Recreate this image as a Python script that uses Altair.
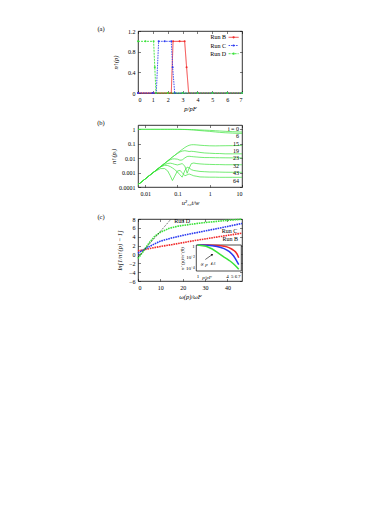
import altair as alt
import pandas as pd

FONT = "Liberation Serif"
RED, BLUE, GREEN, BLACK = "#f02a2a", "#2a3af0", "#3ae23a", "#000000"
W, H = 104, 62
FS = 6

# ---------------- panel (a) data ----------------
a_runs = ["Run B", "Run C", "Run D"]
a_B_p = [0, 1, 2, 2.24, 2.36, 2.8, 3.14, 3.27, 3.41, 4, 5, 6, 7]
a_B_n = [0, 0, 0, 0, 1, 1, 1, 0.5, 0, 0, 0, 0, 0]
a_C_p = [0, 1, 1.23, 1.39, 1.8, 2.24, 2.33, 2.47, 3, 4, 5, 6, 7]
a_C_n = [0, 0, 0, 1, 1, 1, 0.5, 0, 0, 0, 0, 0, 0]
a_D_p = [0, 0.5, 1.05, 1.13, 1.21, 2, 3, 4, 5, 6, 7]
a_D_n = [1, 1, 1, 0.5, 0, 0, 0, 0, 0, 0, 0]
a_xticks = [0, 1, 2, 3, 4, 5, 6, 7]
a_yticks = [0, 0.4, 0.8, 1.2]

# ---------------- panel (b) data ----------------
b_x = [0.006, 0.008, 0.01, 0.015, 0.02, 0.03, 0.04, 0.05, 0.06, 0.07, 0.08, 0.1,
       0.12, 0.14, 0.17, 0.2, 0.23, 0.27, 0.32, 0.4, 0.5, 0.7, 1, 1.5, 2, 3, 5, 7, 10]
b_i0 = [1, 1, 1, 1, 1, 1, 1, 1, 1, 1, 1, 1, 0.995, 0.99, 0.985, 0.98, 0.97, 0.96,
        0.95, 0.93, 0.91, 0.88, 0.85, 0.8, 0.77, 0.73, 0.69, 0.67, 0.65]
b_i6 = [1, 1, 1, 1, 1, 1, 1, 1, 1, 1, 1, 0.995, 0.99, 0.98, 0.97, 0.96, 0.94, 0.92,
        0.9, 0.86, 0.82, 0.77, 0.72, 0.66, 0.62, 0.58, 0.55, 0.53, 0.52]
b_i15 = [1.45e-4, 2.4e-4, 3.6e-4, 7.5e-4, 1.25e-3, 2.6e-3, 4.3e-3, 6.5e-3, 9e-3, 0.012,
         0.015, 0.023, 0.031, 0.04, 0.055, 0.068, 0.078, 0.085, 0.086, 0.083, 0.079,
         0.075, 0.072, 0.071, 0.072, 0.073, 0.074, 0.075, 0.075]
b_i19 = [1.45e-4, 2.4e-4, 3.6e-4, 7.5e-4, 1.25e-3, 2.6e-3, 4.3e-3, 6.5e-3, 9e-3, 0.012,
         0.015, 0.021, 0.027, 0.031, 0.033, 0.031, 0.029, 0.03, 0.029, 0.027, 0.025,
         0.023, 0.022, 0.021, 0.021, 0.02, 0.02, 0.02, 0.02]
b_i23 = [1.45e-4, 2.4e-4, 3.6e-4, 7.5e-4, 1.25e-3, 2.6e-3, 4.3e-3, 6.2e-3, 0.0078,
         0.0088, 0.009, 0.0085, 0.0072, 0.0075, 0.0105, 0.013, 0.0135, 0.013, 0.0125,
         0.012, 0.0115, 0.011, 0.011, 0.0108, 0.0107, 0.0106, 0.0105, 0.0105, 0.0105]
b_i32 = [1.45e-4, 2.4e-4, 3.6e-4, 7.5e-4, 1.25e-3, 2.5e-3, 0.0036, 0.0043, 0.0045,
         0.0042, 0.0038, 0.0034, 0.0038, 0.0042, 0.0028, 0.0009, 0.002, 0.0042, 0.0046,
         0.0042, 0.004, 0.0038, 0.0037, 0.0036, 0.0036, 0.0035, 0.0035, 0.0035, 0.0035]
b_i43 = [1.45e-4, 2.4e-4, 3.6e-4, 7.5e-4, 1.25e-3, 0.0025, 0.0032, 0.0031, 0.0026,
         0.0021, 0.0017, 0.0011, 0.0007, 0.00048, 0.0014, 0.0024, 0.0021, 0.0016, 0.0014,
         0.0013, 0.0012, 0.00115, 0.0011, 0.0011, 0.00108, 0.00106, 0.00105, 0.00105, 0.00105]
b_i64 = [1.45e-4, 2.4e-4, 3.6e-4, 7.5e-4, 1.2e-3, 0.0019, 0.0019, 0.0013, 0.0006,
         0.00028, 0.0005, 0.0013, 0.0014, 0.001, 0.0006, 0.0007, 0.0008, 0.0007, 0.0006,
         0.00055, 0.0005, 0.00049, 0.00048, 0.00048, 0.00047, 0.00047, 0.00047, 0.00047, 0.00047]
b_series = {"0": b_i0, "6": b_i6, "15": b_i15, "19": b_i19, "23": b_i23,
            "32": b_i32, "43": b_i43, "64": b_i64}
b_label_text = ["i = 0", "6", "15", "19", "23", "32", "43", "64"]
b_label_v = [1.1, 0.34, 0.1, 0.03, 0.01, 0.003, 0.001, 0.00025]
b_xticks = [0.01, 0.1, 1, 10]
b_yticks = [0.0001, 0.001, 0.01, 0.1, 1]

# ---------------- panel (c) data ----------------
c_B_x = [0, 5, 10, 15, 20, 25, 30, 35, 40, 46.5]
c_B_y = [0.8, 1.3, 1.8, 2.2, 2.65, 3.1, 3.5, 3.9, 4.3, 4.8]
c_C_x = [0, 3, 7.5, 10, 15, 20, 25, 30, 35, 40, 46.5]
c_C_y = [0.3, 1.2, 2.4, 3.0, 3.7, 4.3, 4.8, 5.3, 5.8, 6.3, 7.0]
c_D_x = [0, 2, 3, 5, 7.5, 10, 14, 18, 25, 30, 35, 40, 46.5]
c_D_y = [-0.9, 0.4, 1.2, 2.6, 4.1, 5.0, 5.9, 6.4, 6.9, 7.2, 7.45, 7.7, 7.95]
c_fit_x = [0, 14.8]
c_fit_y = [-0.6, 8]
c_labels = ["Run D", "Run C", "Run B"]
c_label_x = [19.8, 40.9, 41.3]
c_label_y = [7.5, 5.4, 3.5]
c_xticks = [0, 10, 20, 30, 40]
c_yticks = [-6, -4, -2, 0, 2, 4, 6, 8]

ins_p = [1, 1.5, 2, 2.5, 3, 3.5, 4, 4.5, 5, 5.5, 6, 6.5, 7]
ins_B = [1, 0.97, 0.92, 0.85, 0.76, 0.62, 0.47, 0.32, 0.2, 0.12, 0.065, 0.025, 0.006]
ins_C = [1, 0.9, 0.75, 0.55, 0.37, 0.23, 0.13, 0.07, 0.03, 0.012, 0.004, 0.0012, 0.0004]
ins_D = [1, 0.6, 0.2, 0.06, 0.02, 0.008, 0.004, 0.002, 0.001, 0.0005, 0.00025, 0.00012, 0.00006]
ins_xticks = [1, 4, 5, 6, 7]
ins_yticks = [1, 0.01, 0.0001]
ins_xdom = [0.94, 7.9]
ins_ydom = [3e-5, 1]
ins_arrow_p = [1.44, 1.97]
ins_arrow_v = [0.003, 0.02]


def axis(values, title, length, **kw):
    d = dict(values=values, title=title, ticks=False, domain=False, grid=True,
             gridColor="black", gridOpacity=1, gridWidth=0.5,
             gridDash=[2.5, length - 5, 2.5, 0],
             labelFont=FONT, labelFontSize=FS, labelColor="black",
             titleFont=FONT, titleFontSize=6.5, titleFontWeight="normal",
             titleColor="black", titleFontStyle="italic")
    d.update(kw)
    return alt.Axis(**d)


def panel_label(txt):
    return alt.Chart(pd.DataFrame({"t": [txt]})).mark_text(
        font=FONT, fontSize=6.5, align="center", baseline="middle", color="black"
    ).encode(x=alt.value(-37), y=alt.value(-2), text="t:N")


# ---------------- panel (a) ----------------
xa = alt.X("p:Q", scale=alt.Scale(domain=[0, 7], nice=False, zero=False),
           axis=axis(a_xticks, "p/pF", H, labelPadding=3, titlePadding=3))
ya = alt.Y("n:Q", scale=alt.Scale(domain=[0, 1.2], nice=False),
           axis=axis(a_yticks, "n↑(p)", W, labelPadding=3, titlePadding=9, format="~g"))

layers_a = []
styles = [(RED, [1, 0]), (BLUE, [1.5, 1]), (GREEN, [2, 1])]
for name, p, n, (col, dash) in zip(a_runs, [a_B_p, a_C_p, a_D_p], [a_B_n, a_C_n, a_D_n], styles):
    c = alt.Chart(pd.DataFrame({"p": p, "n": n})).encode(x=xa, y=ya)
    layers_a.append(c.mark_line(color=col, strokeWidth=0.9, strokeDash=dash))
    layers_a.append(c.mark_point(color=col, size=4, filled=True, opacity=1))

for k, (name, (col, dash)) in enumerate(zip(a_runs, styles)):
    yy = 6.3 + 8.2 * k
    layers_a.append(alt.Chart(pd.DataFrame({"t": [name]})).mark_text(
        font=FONT, fontSize=FS, align="right", baseline="middle", color="black"
    ).encode(x=alt.value(88), y=alt.value(yy), text="t:N"))
    layers_a.append(alt.Chart(pd.DataFrame({"t": [name]})).mark_rule(
        color=col, strokeWidth=0.9, strokeDash=dash
    ).encode(x=alt.value(90.6), x2=alt.value(100.6), y=alt.value(yy)))
    layers_a.append(alt.Chart(pd.DataFrame({"t": [name]})).mark_point(
        color=col, size=5, filled=True, opacity=1
    ).encode(x=alt.value(95.6), y=alt.value(yy)))
layers_a.append(panel_label("(a)"))
pa = alt.layer(*layers_a).properties(width=W, height=H)

# ---------------- panel (b) ----------------
xb = alt.X("x:Q", scale=alt.Scale(type="log", domain=[0.006, 10], nice=False),
           axis=axis(b_xticks, "u²₁₀t/w", H, labelPadding=3, titlePadding=3, format="~g"))
yb = alt.Y("v:Q", scale=alt.Scale(type="log", domain=[0.0001, 2], nice=False),
           axis=axis(b_yticks, "n↑(pᵢ)", W, labelPadding=3, titlePadding=2, format="~g"))
dfb = pd.concat([pd.DataFrame({"x": b_x, "v": v, "i": k}) for k, v in b_series.items()])
lines_b = alt.Chart(dfb).mark_line(color=GREEN, strokeWidth=0.7).encode(x=xb, y=yb, detail="i:N")
labels_b = alt.Chart(pd.DataFrame({"t": b_label_text, "v": b_label_v})).mark_text(
    font=FONT, fontSize=FS, align="right", baseline="middle", color="black"
).encode(x=alt.value(W - 3), y=yb, text="t:N")
pb = alt.layer(lines_b, labels_b, panel_label("(b)")).properties(width=W, height=H)

# ---------------- panel (c) ----------------
xc = alt.X("x:Q", scale=alt.Scale(domain=[0, 46.5], nice=False, zero=False),
           axis=axis(c_xticks, "ω(p)/ωF", H, labelPadding=3, titlePadding=3))
yc = alt.Y("y:Q", scale=alt.Scale(domain=[-6, 8], nice=False, zero=False),
           axis=axis(c_yticks, "ln[1/n↑(p) − 1]", W, labelPadding=3, titlePadding=6))
layers_c = []
for xs, ys, col in [(c_B_x, c_B_y, RED), (c_C_x, c_C_y, BLUE), (c_D_x, c_D_y, GREEN)]:
    layers_c.append(alt.Chart(pd.DataFrame({"x": xs, "y": ys})).mark_line(
        color=col, strokeWidth=1.6, strokeDash=[1.6, 0.8]).encode(x=xc, y=yc))
layers_c.append(alt.Chart(pd.DataFrame({"x": c_fit_x, "y": c_fit_y})).mark_line(
    color=BLACK, strokeWidth=0.7, strokeDash=[1, 1.2]).encode(x=xc, y=yc))
layers_c.append(alt.Chart(pd.DataFrame({"x": c_label_x, "y": c_label_y, "t": c_labels})).mark_text(
    font=FONT, fontSize=FS, align="center", baseline="middle", color="black"
).encode(x=xc, y=yc, text="t:N"))
layers_c.append(panel_label("(c)"))
main_c = alt.layer(*layers_c)

xi_scale = alt.Scale(type="log", domain=ins_xdom, range=[58.3, 103.3], nice=False)
yi_scale = alt.Scale(type="log", domain=ins_ydom, range=[52, 26], nice=False)
xi_axis = alt.Axis(values=ins_xticks, title=None, orient="bottom", offset=-10, ticks=False,
                   domain=False, grid=False, labelFont=FONT, labelFontSize=5,
                   labelColor="black", labelPadding=2, format="~g")
yi_axis = alt.Axis(values=ins_yticks, title="n↑(p)/n↑(0)", orient="left", offset=-58.3,
                   ticks=False, domain=False, grid=False, labelFont=FONT, labelFontSize=5,
                   labelColor="black", labelPadding=2,
                   labelExpr="datum.value >= 1 ? '1' : (datum.value > 0.001 ? '10⁻²' : '10⁻⁴')",
                   titleFont=FONT, titleFontSize=5, titleFontWeight="normal",
                   titleColor="black", titleFontStyle="italic", titlePadding=1)
xi = alt.X("p:Q", scale=xi_scale, axis=xi_axis)
yi = alt.Y("v:Q", scale=yi_scale, axis=yi_axis)
layers_i = []
layers_i.append(alt.Chart(pd.DataFrame({"p": [ins_xdom[0]], "p2": [ins_xdom[1]],
                                        "v": [ins_ydom[0]], "v2": [ins_ydom[1]]})).mark_rect(
    fill="white", stroke="black", strokeWidth=0.7).encode(x=xi, x2="p2:Q", y=yi, y2="v2:Q"))
for vals, col in [(ins_B, RED), (ins_C, BLUE), (ins_D, GREEN)]:
    layers_i.append(alt.Chart(pd.DataFrame({"p": ins_p, "v": vals})).mark_line(
        color=col, strokeWidth=1.5, clip=True).encode(x=xi, y=yi))
layers_i.append(alt.Chart(pd.DataFrame({"p": ins_arrow_p, "v": ins_arrow_v})).mark_line(
    color=BLACK, strokeWidth=0.6).encode(x=xi, y=yi))
layers_i.append(alt.Chart(pd.DataFrame({"p": ins_arrow_p[1:], "v": ins_arrow_v[1:]})).mark_point(
    shape="triangle", size=6, filled=True, color=BLACK, opacity=1, angle=55).encode(x=xi, y=yi))
layers_i.append(alt.Chart(pd.DataFrame({"t": ["∝ p⁻⁴·⁶"]})).mark_text(
    font=FONT, fontSize=5, align="left", baseline="middle", color="black", fontStyle="italic"
).encode(x=alt.value(62), y=alt.value(45), text="t:N"))
layers_i.append(alt.Chart(pd.DataFrame({"t": ["p/pF"]})).mark_text(
    font=FONT, fontSize=5, align="center", baseline="middle", color="black", fontStyle="italic"
).encode(x=alt.value(69), y=alt.value(57.5), text="t:N"))
inset_c = alt.layer(*layers_i)

pc = alt.layer(main_c, inset_c).resolve_scale(x="independent", y="independent").properties(
    width=W, height=H)

chart = alt.vconcat(pa, pb, pc, spacing=32, bounds="flush").resolve_scale(
    x="independent", y="independent"
).properties(
    padding={"left": 88, "top": 17, "right": 4, "bottom": 4}, background="white"
).configure_view(stroke="black", strokeWidth=0.8)

chart.save("out.html", embed_options={"renderer": "svg", "actions": False})
